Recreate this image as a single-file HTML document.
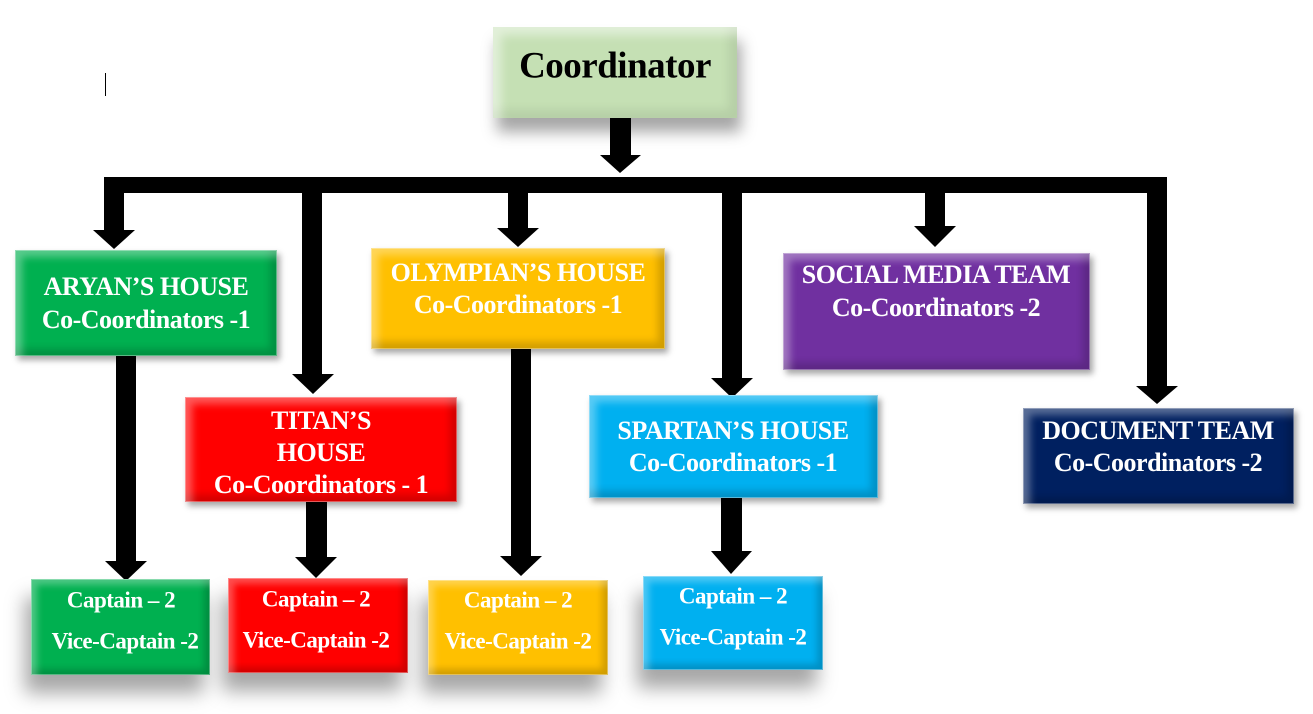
<!DOCTYPE html>
<html><head><meta charset="utf-8"><style>
html,body{margin:0;padding:0;background:#fff;}
body{width:1313px;height:714px;position:relative;overflow:hidden;font-family:"Liberation Serif",serif;font-weight:bold;}
.b{position:absolute;box-sizing:border-box;box-shadow:inset 0 0 0 1px rgba(255,255,255,.35),inset 7px 7px 8px rgba(255,255,255,.35),inset -7px -7px 8px rgba(0,0,0,.18),3px 4px 6px rgba(0,0,0,.35);}
.s{box-shadow:inset 0 0 0 1px rgba(255,255,255,.35),inset 6px 6px 7px rgba(255,255,255,.3),inset -6px -6px 7px rgba(0,0,0,.18),-6px 18px 18px rgba(0,0,0,.35);}
.t{position:absolute;white-space:nowrap;color:#fff;transform:translate(-50%,-50%);line-height:1;letter-spacing:-0.5px;}
.h{font-size:26px;}
.c{font-size:23px;}
</style></head><body>
<div style="position:absolute;left:105px;top:73px;width:1px;height:23px;background:#000"></div>

<div class="b" style="left:493px;top:27px;width:244px;height:91px;background:#c5e0b4;box-shadow:inset 8px 8px 10px rgba(255,255,255,.5),inset -8px -8px 10px rgba(0,0,0,.08),4px 14px 14px rgba(0,0,0,.35)"></div>
<div class="t" style="left:615px;top:66px;font-size:37px;color:#000">Coordinator</div>

<svg width="1313" height="714" style="position:absolute;left:0;top:0">
<g fill="#000">
<rect x="610" y="118" width="21" height="38"/><polygon points="600,155 641,155 620,173"/>
<rect x="104" y="177" width="1063" height="16"/>
<rect x="104" y="177" width="20" height="54"/><polygon points="93,230 135,230 114,249"/>
<rect x="302" y="177" width="20" height="198"/><polygon points="292,374 334,374 313,394"/>
<rect x="508" y="177" width="20" height="52"/><polygon points="497,228 539,228 518,247"/>
<rect x="722" y="177" width="20" height="202"/><polygon points="711,378 753,378 732,398"/>
<rect x="925" y="177" width="20" height="50"/><polygon points="914,226 956,226 935,247"/>
<rect x="1147" y="177" width="20" height="210"/><polygon points="1136,386 1178,386 1157,404"/>
<rect x="116" y="356" width="20" height="206"/><polygon points="105,561 147,561 126,581"/>
<rect x="306" y="502" width="21" height="56"/><polygon points="295,557 337,557 316,578"/>
<rect x="511" y="349" width="20" height="208"/><polygon points="500,556 542,556 521,576"/>
<rect x="721" y="498" width="21" height="54"/><polygon points="711,551 752,551 731,574"/>
</g></svg>

<div class="b" style="left:15px;top:250px;width:262px;height:106px;background:#00b050"></div>
<div class="t h" style="left:146px;top:287px">ARYAN’S HOUSE</div>
<div class="t h" style="left:146px;top:320px">Co-Coordinators -1</div>

<div class="b" style="left:371px;top:248px;width:294px;height:101px;background:#ffc000"></div>
<div class="t h" style="left:518px;top:273px">OLYMPIAN’S HOUSE</div>
<div class="t h" style="left:518px;top:305px">Co-Coordinators -1</div>

<div class="b" style="left:185px;top:397px;width:272px;height:105px;background:#ff0000"></div>
<div class="t h" style="left:321px;top:421px">TITAN’S</div>
<div class="t h" style="left:321px;top:453px">HOUSE</div>
<div class="t h" style="left:321px;top:485px">Co-Coordinators - 1</div>

<div class="b" style="left:589px;top:395px;width:289px;height:103px;background:#00b0f0"></div>
<div class="t h" style="left:733px;top:431px">SPARTAN’S HOUSE</div>
<div class="t h" style="left:733px;top:463px">Co-Coordinators -1</div>

<div class="b" style="left:783px;top:253px;width:307px;height:117px;background:#7030a0"></div>
<div class="t h" style="left:936px;top:275px">SOCIAL MEDIA TEAM</div>
<div class="t h" style="left:936px;top:308px">Co-Coordinators -2</div>

<div class="b" style="left:1023px;top:408px;width:271px;height:96px;background:#002060"></div>
<div class="t h" style="left:1158px;top:431px">DOCUMENT TEAM</div>
<div class="t h" style="left:1158px;top:463px">Co-Coordinators -2</div>

<div class="b s" style="left:31px;top:579px;width:179px;height:96px;background:#00b050"></div>
<div class="t c" style="left:121px;top:600px">Captain – 2</div>
<div class="t c" style="left:125px;top:641px">Vice-Captain -2</div>

<div class="b s" style="left:228px;top:578px;width:180px;height:95px;background:#ff0000"></div>
<div class="t c" style="left:316px;top:599px">Captain – 2</div>
<div class="t c" style="left:316px;top:640px">Vice-Captain -2</div>

<div class="b s" style="left:428px;top:580px;width:180px;height:95px;background:#ffc000"></div>
<div class="t c" style="left:518px;top:600px">Captain – 2</div>
<div class="t c" style="left:518px;top:641px">Vice-Captain -2</div>

<div class="b s" style="left:643px;top:576px;width:180px;height:94px;background:#00b0f0"></div>
<div class="t c" style="left:733px;top:596px">Captain – 2</div>
<div class="t c" style="left:733px;top:637px">Vice-Captain -2</div>
</body></html>
